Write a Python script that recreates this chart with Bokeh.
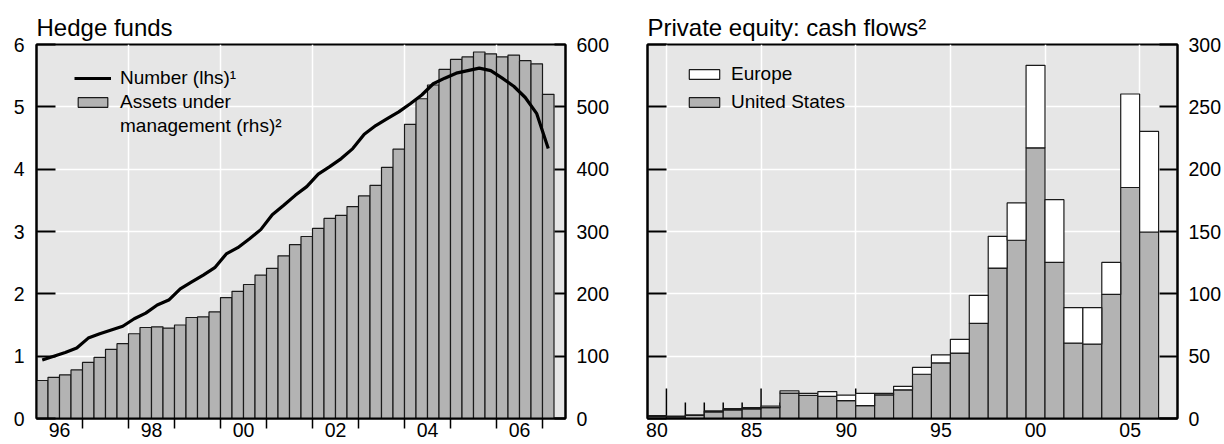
from bokeh.plotting import figure
from bokeh.models import (ColumnDataSource, LinearAxis, Range1d, FixedTicker,
                          CustomJSTickFormatter, Legend, LegendItem)
from bokeh.layouts import row
from bokeh.embed import file_html
from bokeh.resources import INLINE

FONT = "Liberation Sans"
BG = "#e6e6e6"
BAR = "#b3b3b3"
EDGE = "#1a1a1a"

# ---------------- Hedge funds (quarterly, 1996Q1 - 2007Q1) ----------------
hf_first_year = 1996
hf_number = [0.94, 1.00, 1.06, 1.13, 1.29, 1.36, 1.42, 1.48, 1.60, 1.69, 1.82, 1.90,
             2.08, 2.19, 2.30, 2.42, 2.64, 2.74, 2.88, 3.03, 3.27, 3.42, 3.58, 3.72,
             3.92, 4.04, 4.17, 4.33, 4.56, 4.70, 4.81, 4.92, 5.05, 5.19, 5.37, 5.46,
             5.54, 5.58, 5.62, 5.58, 5.46, 5.33, 5.15, 4.89, 4.33]
hf_assets = [61, 66, 70, 78, 90, 98, 111, 120, 136, 146, 147, 145,
             150, 162, 163, 171, 194, 204, 215, 230, 241, 261, 279, 292,
             305, 321, 326, 340, 357, 374, 403, 432, 472, 513, 535, 560,
             576, 580, 588, 585, 580, 583, 574, 569, 520]
hf_year_labels = ["96", "98", "00", "02", "04", "06"]
hf_label_years = [1996, 1998, 2000, 2002, 2004, 2006]

# ---------------- Private equity cash flows (annual, 1980 - 2006) ----------------
pe_years = list(range(1980, 2007))
pe_us = [1.6, 1.3, 2.4, 5.3, 6.9, 7.7, 8.7, 20.4, 18.5, 17.7, 14.3, 10.3, 19.0, 23.0,
         35.5, 44.6, 52.5, 76.3, 120.7, 143.0, 217.1, 125.2, 60.4, 59.6, 99.5, 185.3, 149.6]
pe_europe = [0.8, 0.6, 0.5, 0.8, 1.0, 1.0, 1.3, 1.8, 1.7, 3.9, 4.5, 9.9, 1.1, 2.8,
             5.5, 6.4, 11.0, 22.5, 25.4, 29.9, 66.2, 50.3, 28.6, 29.4, 25.7, 75.0, 80.7]
pe_year_labels = ["80", "85", "90", "95", "00", "05"]
pe_label_years = [1980, 1985, 1990, 1995, 2000, 2005]

FH = 374          # frame height in px
TOP = 44          # space above frame
BOTTOM = 444 - TOP - FH
ITEM_H = 21       # approx. legend row height


def style_common(p, title):
    p.title.text = title
    p.title.text_font = FONT
    p.title.text_font_size = "24px"
    p.title.text_font_style = "normal"
    p.title.text_color = "black"
    p.title.align = "left"
    p.title.standoff = 8
    p.background_fill_color = BG
    p.border_fill_color = "white"
    p.outline_line_color = "black"
    p.outline_line_width = 2
    p.grid.grid_line_color = "white"
    p.grid.grid_line_width = 1.5


def style_axis(ax):
    ax.axis_line_color = "black"
    ax.axis_line_width = 2
    ax.major_tick_line_color = "black"
    ax.major_tick_line_width = 2
    ax.minor_tick_line_color = "black"
    ax.minor_tick_line_width = 1.5
    ax.major_label_text_font = FONT
    ax.major_label_text_font_size = "19.5px"
    ax.major_label_text_color = "black"


# ======================= Left panel =======================
n = len(hf_assets)
hf_x = [hf_first_year + (i + 0.5) / 4 for i in range(n)]
hf_src = ColumnDataSource(dict(x=hf_x, number=hf_number, assets=hf_assets))

x_end = hf_first_year + (n + 1) / 4
p1 = figure(frame_width=529, frame_height=FH, min_border_left=36, min_border_right=55,
            min_border_top=TOP, min_border_bottom=BOTTOM,
            x_range=Range1d(hf_first_year, x_end), y_range=Range1d(0, 6),
            output_backend="svg", toolbar_location=None)
p1.extra_y_ranges = {"rhs": Range1d(0, 600)}
style_common(p1, "Hedge funds")

year_bounds = list(range(hf_first_year + 1, int(x_end) + 1))
p1.xaxis.ticker = FixedTicker(ticks=[y + 0.5 for y in hf_label_years], minor_ticks=year_bounds)
p1.xaxis.formatter = CustomJSTickFormatter(args=dict(labels=hf_year_labels),
                                           code="return labels[index]")
style_axis(p1.xaxis[0])
p1.xaxis.major_tick_line_color = None
p1.xaxis.major_tick_in = 0
p1.xaxis.major_tick_out = 0
p1.xaxis.minor_tick_in = 0
p1.xaxis.minor_tick_out = 10
p1.xaxis.major_label_standoff = -6

p1.yaxis.ticker = FixedTicker(ticks=[0, 1, 2, 3, 4, 5, 6], minor_ticks=[])
style_axis(p1.yaxis[0])
p1.yaxis.major_tick_in = 19
p1.yaxis.major_tick_out = 0
p1.yaxis.major_label_standoff = 12

rax = LinearAxis(y_range_name="rhs", ticker=FixedTicker(ticks=[0, 100, 200, 300, 400, 500, 600], minor_ticks=[]))
style_axis(rax)
rax.major_tick_in = 11
rax.major_tick_out = 0
rax.major_label_standoff = 11
p1.add_layout(rax, "right")

p1.xgrid.ticker = FixedTicker(ticks=hf_label_years[1:])
p1.ygrid.ticker = FixedTicker(ticks=[1, 2, 3, 4, 5])

bars1 = p1.vbar(x="x", top="assets", width=0.25, bottom=0, source=hf_src, y_range_name="rhs",
                fill_color=BAR, line_color=EDGE, line_width=1.2)
line1 = p1.line(x="x", y="number", source=hf_src, line_color="black", line_width=3.2)
blank = p1.scatter(x=[], y=[], fill_alpha=0, line_alpha=0)

sp1 = 2
leg1_h = 3 * ITEM_H + 2 * sp1
leg1 = Legend(items=[LegendItem(label="Number (lhs)¹", renderers=[line1]),
                     LegendItem(label="Assets under", renderers=[bars1]),
                     LegendItem(label="management (rhs)²", renderers=[blank])],
              location=(38, FH - 26 - leg1_h), orientation="vertical",
              glyph_width=37, glyph_height=12, label_standoff=9, spacing=sp1,
              padding=0, margin=0, background_fill_alpha=0, border_line_color=None,
              label_text_font=FONT, label_text_font_size="19px", label_text_color="black")
p1.add_layout(leg1, "center")

# ======================= Right panel =======================
pe_src = ColumnDataSource(dict(year=pe_years, us=pe_us, europe=pe_europe))
p2 = figure(frame_width=530, frame_height=FH, min_border_left=27, min_border_right=47,
            min_border_top=TOP, min_border_bottom=BOTTOM,
            x_range=Range1d(pe_years[0] - 0.5, pe_years[-1] + 1.5), y_range=Range1d(0, 300),
            y_axis_location="right", output_backend="svg", toolbar_location=None)
style_common(p2, "Private equity: cash flows²")

p2.xaxis.ticker = FixedTicker(ticks=pe_label_years, minor_ticks=[])
p2.xaxis.formatter = CustomJSTickFormatter(args=dict(labels=pe_year_labels),
                                           code="return labels[index]")
style_axis(p2.xaxis[0])
p2.xaxis.major_tick_line_color = None
p2.xaxis.major_tick_in = 0
p2.xaxis.major_tick_out = 0
p2.xaxis.major_label_standoff = 4

pe_ticks = [0, 50, 100, 150, 200, 250, 300]
p2.yaxis.ticker = FixedTicker(ticks=pe_ticks, minor_ticks=[])
style_axis(p2.yaxis[0])
p2.yaxis.major_tick_in = 18
p2.yaxis.major_tick_out = 0
p2.yaxis.major_label_standoff = 11

lax = LinearAxis(ticker=FixedTicker(ticks=pe_ticks, minor_ticks=[]),
                 formatter=CustomJSTickFormatter(code="return ''"))
style_axis(lax)
lax.major_tick_in = 19
lax.major_tick_out = 0
lax.major_label_standoff = 0
p2.add_layout(lax, "left")

p2.xgrid.ticker = FixedTicker(ticks=[y + 0.5 for y in pe_label_years])
p2.ygrid.ticker = FixedTicker(ticks=pe_ticks[1:-1])

# inner x ticks at year boundaries (long every 5 years), drawn under the bars
units_per_px = 300 / FH
bx = [y + 0.5 for y in pe_years[:-1]]
blen = [(30 if (y + 1) % 5 == 1 else 16) * units_per_px for y in pe_years[:-1]]
p2.segment(x0=bx, y0=[0] * len(bx), x1=bx, y1=blen, line_color="black", line_width=1.5)

stack = p2.vbar_stack(["us", "europe"], x="year", width=1, source=pe_src,
                      fill_color=[BAR, "white"], line_color=EDGE, line_width=1.2)

sp2 = 6
leg2_h = 2 * ITEM_H + sp2
leg2 = Legend(items=[LegendItem(label="Europe", renderers=[stack[1]]),
                     LegendItem(label="United States", renderers=[stack[0]])],
              location=(38, FH - 21 - leg2_h), orientation="vertical",
              glyph_width=38, glyph_height=12, label_standoff=8, spacing=sp2,
              padding=0, margin=0, background_fill_alpha=0, border_line_color=None,
              label_text_font=FONT, label_text_font_size="19px", label_text_color="black")
p2.add_layout(leg2, "center")

layout = row(p1, p2)
open("out.html", "w").write(file_html(layout, INLINE))
